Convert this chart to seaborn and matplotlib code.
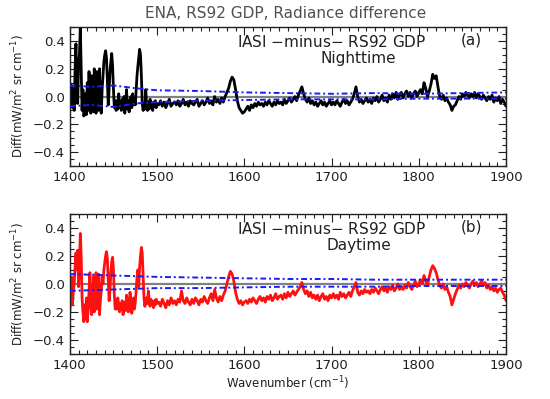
import numpy as np
import pandas as pd
import seaborn as sns
import matplotlib.pyplot as plt
from matplotlib.ticker import MultipleLocator

# wavenumber grid (cm-1): 1 cm-1 steps up to 1500, then 2 cm-1 steps
WN_FINE = list(range(1400, 1501, 1))
WN_COARSE = list(range(1502, 1901, 2))
WAVENUMBER = WN_FINE + WN_COARSE

NIGHT_FINE = [
    0.10, -0.05, 0.08, -0.08, 0.05, -0.10, 0.20, 0.38, 0.10, -0.05,
    0.25, 0.30, 0.50, 0.20, -0.10, 0.05, -0.14, -0.12, 0.02, -0.13,
    0.10, -0.10, 0.18, -0.08, -0.12, 0.15, -0.05, -0.11, 0.20, -0.06,
    -0.12, 0.18, 0.02, -0.10, 0.20, -0.04, -0.12, 0.05, 0.15, 0.25,
    0.30, 0.33, 0.28, 0.12, -0.06, 0.05, 0.18, 0.25, 0.31, 0.22,
    0.05, -0.08, -0.03, -0.10, -0.03, -0.09, 0.02, -0.08, -0.04, -0.10,
    -0.02, -0.08, 0.00, -0.12, -0.05, 0.05, -0.09, -0.03, -0.11, -0.06,
    0.00, -0.08, 0.02, -0.06, -0.02, -0.06, 0.05, 0.15, 0.22, 0.28,
    0.34, 0.30, 0.15, -0.05, -0.10, -0.05, -0.09, 0.05, -0.06, -0.10,
    -0.04, -0.09, -0.02, -0.08, -0.05, -0.10, -0.04, -0.07, -0.03, -0.08,
    -0.05,
]
NIGHT_COARSE = [
    -0.06, -0.03, -0.07, -0.04, -0.08, -0.05, -0.02, -0.07, -0.05, -0.04,
    -0.06, -0.03, -0.07, -0.05, -0.02, -0.06, -0.04, -0.07, -0.03, -0.05,
    -0.06, -0.04, -0.02, -0.07, -0.05, -0.03, -0.06, -0.04, -0.01, -0.05,
    -0.03, -0.06, 0.00, -0.04, -0.02, -0.05, -0.01, -0.04, 0.00, 0.03,
    0.06, 0.11, 0.14, 0.12, 0.05, -0.03, -0.08, -0.10, -0.12, -0.11,
    -0.09, -0.07, -0.10, -0.06, -0.08, -0.05, -0.07, -0.04, -0.06, -0.05,
    -0.07, -0.04, -0.06, -0.03, -0.05, -0.07, -0.04, -0.06, -0.03, -0.05,
    -0.04, -0.06, -0.02, -0.05, -0.03, -0.01, -0.04, -0.02, 0.00, -0.03,
    0.01, 0.04, 0.07, 0.02, -0.02, -0.04, -0.01, -0.05, -0.03, -0.06,
    -0.04, -0.07, -0.05, -0.03, -0.06, -0.04, -0.07, -0.05, -0.03, -0.06,
    -0.04, -0.06, -0.03, -0.05, -0.07, -0.04, -0.02, -0.05, -0.03, -0.06,
    -0.04, -0.02, 0.02, 0.07, 0.00, -0.04, -0.02, -0.05, -0.03, -0.01,
    -0.04, -0.02, -0.05, -0.01, -0.03, 0.00, -0.04, -0.02, 0.01, -0.03,
    -0.01, -0.04, 0.01, -0.02, 0.02, -0.01, 0.03, -0.02, 0.01, 0.03,
    -0.01, 0.02, 0.04, 0.00, 0.03, -0.01, 0.02, 0.04, 0.00, 0.03,
    0.05, 0.02, 0.10, 0.06, 0.00, 0.04, 0.09, 0.16, 0.13, 0.15,
    0.07, 0.00, -0.02, 0.01, -0.03, -0.01, -0.04, -0.06, -0.10, -0.07,
    -0.06, -0.03, 0.00, -0.02, 0.02, 0.00, 0.03, 0.01, -0.01, 0.02,
    0.00, 0.03, -0.01, 0.02, 0.00, -0.02, 0.01, -0.01, -0.03, 0.00,
    -0.02, 0.01, -0.04, -0.01, -0.03, 0.00, -0.05, -0.02, -0.04, -0.07,
]

DAY_FINE = [
    -0.20, -0.10, 0.05, -0.15, -0.05, 0.00, 0.12, 0.22, 0.10, 0.24,
    -0.02, 0.15, 0.36, 0.20, -0.10, -0.20, -0.27, -0.15, -0.25, -0.10,
    -0.27, -0.18, -0.05, 0.08, -0.15, -0.22, -0.08, 0.05, -0.20, -0.10,
    0.08, -0.18, -0.05, 0.07, -0.22, -0.12, -0.05, 0.05, 0.00, 0.10,
    0.15, 0.20, 0.23, 0.18, 0.02, -0.12, -0.05, 0.08, 0.16, 0.19,
    0.10, -0.08, -0.18, -0.14, -0.18, -0.10, -0.16, -0.20, -0.14, -0.18,
    -0.12, -0.22, -0.17, -0.13, -0.19, -0.08, -0.15, -0.20, -0.14, -0.06,
    -0.12, -0.21, -0.16, -0.10, -0.18, -0.13, -0.05, 0.05, 0.10, -0.02,
    0.12, 0.20, 0.26, 0.22, 0.05, -0.10, -0.16, -0.12, -0.10, -0.14,
    -0.05, -0.12, -0.16, -0.11, -0.15, -0.13, -0.17, -0.12, -0.15, -0.11,
    -0.14,
]
DAY_COARSE = [
    -0.13, -0.16, -0.11, -0.14, -0.17, -0.12, -0.15, -0.10, -0.14, -0.12,
    -0.15, -0.11, -0.13, -0.05, -0.12, -0.14, -0.10, -0.13, -0.15, -0.11,
    -0.14, -0.10, -0.12, -0.15, -0.11, -0.13, -0.09, -0.12, -0.14, -0.10,
    -0.07, -0.12, -0.04, -0.10, -0.13, -0.09, -0.12, -0.08, -0.05, 0.00,
    0.05, 0.09, 0.07, 0.02, -0.06, -0.11, -0.14, -0.12, -0.15, -0.13,
    -0.12, -0.14, -0.11, -0.13, -0.10, -0.12, -0.14, -0.11, -0.09, -0.12,
    -0.10, -0.13, -0.09, -0.11, -0.08, -0.12, -0.10, -0.07, -0.11, -0.09,
    -0.08, -0.11, -0.07, -0.10, -0.06, -0.09, -0.07, -0.05, -0.08, -0.06,
    -0.04, -0.02, 0.01, -0.04, -0.07, -0.05, -0.09, -0.06, -0.10, -0.08,
    -0.11, -0.08, -0.12, -0.09, -0.07, -0.11, -0.09, -0.12, -0.08, -0.10,
    -0.07, -0.10, -0.08, -0.11, -0.06, -0.09, -0.07, -0.10, -0.08, -0.06,
    -0.09, -0.05, -0.02, 0.01, -0.06, -0.08, -0.05, -0.07, -0.04, -0.06,
    -0.05, -0.07, -0.04, -0.06, -0.03, -0.05, -0.07, -0.04, -0.02, -0.05,
    -0.03, -0.06, -0.02, -0.04, -0.01, -0.05, -0.03, 0.00, -0.04, -0.02,
    -0.04, -0.01, -0.03, 0.01, -0.02, -0.04, -0.01, 0.02, -0.02, 0.00,
    0.03, 0.00, 0.06, 0.02, -0.01, 0.05, 0.10, 0.13, 0.11, 0.08,
    0.03, -0.01, -0.03, 0.00, -0.04, -0.02, -0.06, -0.09, -0.15, -0.11,
    -0.07, -0.04, -0.01, -0.03, 0.00, -0.02, 0.01, -0.01, -0.03, 0.00,
    0.02, -0.01, 0.01, -0.02, 0.00, 0.02, -0.01, 0.01, -0.03, -0.01,
    -0.04, -0.02, -0.05, -0.03, -0.06, -0.04, -0.03, -0.06, -0.08, -0.12,
]

# uncertainty envelope (blue dashed)
ENV_WN = [1400, 1425, 1450, 1475, 1500, 1550, 1600, 1650, 1700, 1750, 1800, 1850, 1900]
NIGHT_UPPER = [0.08, 0.07, 0.08, 0.06, 0.045, 0.04, 0.03, 0.025, 0.02, 0.025, 0.02, 0.025, 0.03]
NIGHT_LOWER = [-0.07, -0.06, -0.075, -0.05, -0.04, -0.03, -0.025, -0.02, -0.02, -0.02, -0.015, -0.015, -0.015]
DAY_UPPER = [0.07, 0.065, 0.06, 0.055, 0.05, 0.045, 0.04, 0.035, 0.035, 0.03, 0.03, 0.03, 0.03]
DAY_LOWER = [-0.05, -0.045, -0.04, -0.035, -0.03, -0.03, -0.025, -0.02, -0.02, -0.02, -0.015, -0.015, -0.015]

YLABEL = "Diff(mW/m$^2$ sr cm$^{-1}$)"
TEXT_COLOR = "#202020"


def draw_panel(ax, values, upper, lower, color, tag, when):
    df = pd.DataFrame({"wn": WAVENUMBER, "diff": values})
    env = pd.DataFrame({"wn": ENV_WN, "upper": upper, "lower": lower})
    ax.axhline(0.0, color="#808080", lw=1.6, zorder=1)
    sns.lineplot(data=df, x="wn", y="diff", ax=ax, color=color, lw=2.0, zorder=2)
    for col in ["upper", "lower"]:
        sns.lineplot(data=env, x="wn", y=col, ax=ax, color="#1a1aff", lw=1.4,
                     zorder=3).lines[-1].set_dashes([3, 1.5, 1, 1.5])
    ax.set_xlim(1400, 1900)
    ax.set_ylim(-0.5, 0.5)
    ax.yaxis.set_major_locator(MultipleLocator(0.2))
    ax.yaxis.set_minor_locator(MultipleLocator(0.05))
    ax.xaxis.set_major_locator(MultipleLocator(100))
    ax.xaxis.set_minor_locator(MultipleLocator(10))
    ax.tick_params(which="both", direction="in", top=True, right=True,
                   labelsize=9.5, colors=TEXT_COLOR, width=0.8)
    ax.tick_params(which="major", length=6)
    ax.tick_params(which="minor", length=3)
    ax.set_ylabel(YLABEL, fontsize=8.5, color=TEXT_COLOR, labelpad=4)
    ax.set_xlabel("")
    for s in ax.spines.values():
        s.set_linewidth(1.0)
        s.set_color(TEXT_COLOR)
    ax.text(0.60, 0.895, "IASI $-$minus$-$ RS92 GDP", transform=ax.transAxes,
            ha="center", va="center", fontsize=11, color=TEXT_COLOR)
    ax.text(0.662, 0.775, when, transform=ax.transAxes,
            ha="center", va="center", fontsize=11, color=TEXT_COLOR)
    ax.text(0.92, 0.905, tag, transform=ax.transAxes,
            ha="center", va="center", fontsize=11, color=TEXT_COLOR)


def main():
    sns.set_style("ticks")
    plt.rcParams["font.family"] = ["DejaVu Sans"]

    fig = plt.figure(figsize=(5.5, 3.99), dpi=100)
    ax_top = fig.add_axes([0.127, 0.584, 0.793, 0.348])
    ax_bot = fig.add_axes([0.127, 0.113, 0.793, 0.351])

    draw_panel(ax_top, NIGHT_FINE + NIGHT_COARSE, NIGHT_UPPER, NIGHT_LOWER,
               "black", "(a)", "Nighttime")
    draw_panel(ax_bot, DAY_FINE + DAY_COARSE, DAY_UPPER, DAY_LOWER,
               "#ff1010", "(b)", "Daytime")

    ax_bot.set_xlabel("Wavenumber (cm$^{-1}$)", fontsize=8.5, color=TEXT_COLOR, labelpad=2)
    fig.text(0.52, 0.965, "ENA, RS92 GDP, Radiance difference", ha="center",
             va="center", fontsize=11, color="#505050")

    fig.savefig("out.png", dpi=100)


if __name__ == "__main__":
    main()
